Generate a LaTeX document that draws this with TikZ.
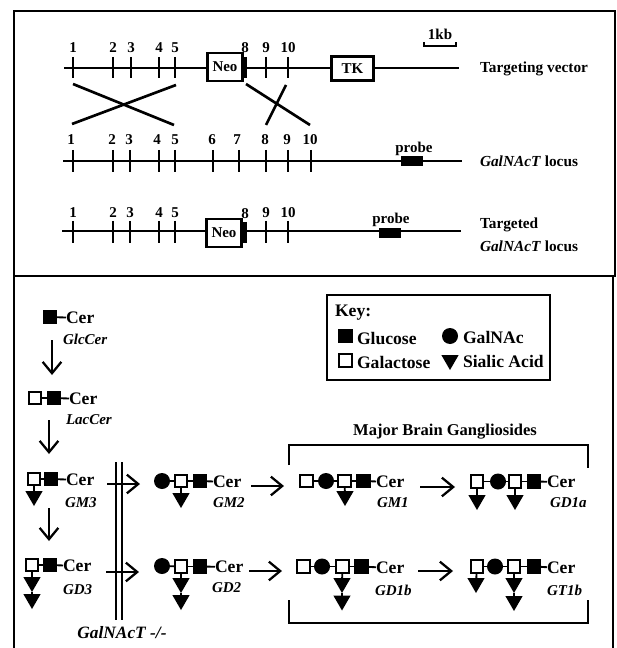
\documentclass[tikz,border=0pt]{standalone}
\usepackage{fontspec}
\setmainfont{Liberation Serif}
\usetikzlibrary{arrows.meta,shapes.geometric}
\tikzset{
  x=0.75pt,y=-0.75pt,
  every node/.style={inner sep=0pt,outer sep=0pt,font=\bfseries\fontsize{11.25}{12}\selectfont},
  frameline/.style={line width=1.4pt},
  gene/.style={line width=1.7pt},
  tick/.style={line width=1.6pt},
  cross/.style={line width=2pt},
  genebox/.style={draw,line width=2.2pt,fill=white,font=\bfseries\fontsize{11.25}{12}\selectfont},
  probebox/.style={fill=black,minimum width=16.5pt,minimum height=7.5pt},
  wsq/.style={draw,fill=white,line width=1.5pt,minimum size=9.2pt},
  bsq/.style={draw,fill=black,line width=0.6pt,minimum size=10.2pt},
  circ/.style={circle,fill=black,minimum size=12pt},
  tri/.style={regular polygon,regular polygon sides=3,shape border rotate=180,fill=black,minimum size=15pt},
  lnk/.style={line width=1.4pt},
  step arrow/.style={line width=1.6pt,-{Straight Barb[length=8.5pt,width=14pt,line width=1.7pt]}},
  cer/.style={anchor=west,font=\bfseries\fontsize{13.2}{14}\selectfont},
  glabel/.style={anchor=west,font=\bfseries\itshape\fontsize{11.25}{12}\selectfont},
  keytxt/.style={anchor=west,font=\bfseries\fontsize{13.2}{14}\selectfont},
  side/.style={anchor=west,font=\bfseries\fontsize{11.5}{12}\selectfont},
  brack/.style={line width=1.5pt},
}
\begin{document}
\begin{tikzpicture}
\useasboundingbox (0,0) rectangle (616,648);
\fill[white] (0,0) rectangle (616,648);
% frames
\draw[frameline] (14,11) rectangle (615,276);
\draw[frameline] (14,276) -- (14,648);
\draw[frameline] (613,276) -- (613,648);
% targeting vector
\coordinate (v0) at (64,68); \coordinate (v1) at (459,68);
\draw[gene] (v0) -- (v1);
\foreach \x/\t in {73/1,113/2,131/3,159/4,175/5,266/9,288/10}{
  \draw[tick] (\x,57) -- (\x,78);
  \node (va\t) at (\x,48) {\t};
}
\node[genebox,minimum width=26pt,minimum height=21pt] (neoa) at (225,67) {Neo};
\draw[line width=2.6pt] (245,57) -- (245,78);
\node (va8) at (245,48) {8};
\node[genebox,minimum width=31pt,minimum height=18pt] (tk) at (352.5,68.5) {TK};
\node (kb) at (440,34) {1kb};
\draw[line width=1.5pt] (424,42) -- (424,46) -- (456,46) -- (456,42);
\node[side] (sa) at (480,68.5) {Targeting vector};
% crossovers
\draw[cross] (73,84) -- (174,125);
\draw[cross] (72,124) -- (176,85);
\draw[cross] (246,84) -- (310,125);
\draw[cross] (286,85) -- (266,125);
% locus
\coordinate (l0) at (63,161); \coordinate (l1) at (462,161);
\draw[gene] (l0) -- (l1);
\foreach \x/\t/\lx in {73/1/71,113/2/112,130/3/129,159/4/157,175/5/175,213/6/212,239/7/237,266/8/265,288/9/287,311/10/310}{
  \draw[tick] (\x,150) -- (\x,172);
  \node (lb\t) at (\lx,140) {\t};
}
\node[probebox] (pa) at (412,161) {};
\node (pla) at (414,148.5) {probe};
\node[side] (sb) at (480,161) {\textit{GalNAcT} locus};
% targeted locus
\coordinate (t0) at (62,231); \coordinate (t1) at (461,231);
\draw[gene] (t0) -- (t1);
\foreach \x/\t in {73/1,113/2,130/3,159/4,175/5,266/9,288/10}{
  \draw[tick] (\x,221) -- (\x,243);
  \node (tc\t) at (\x,213) {\t};
}
\node[genebox,minimum width=26pt,minimum height=21pt] (neob) at (224,233) {Neo};
\draw[line width=2.6pt] (245,222) -- (245,243);
\node (tc8) at (245,214) {8};
\node[probebox] (pb) at (390,233) {};
\node (plb) at (391,219.5) {probe};
\node[side] (sc) at (480,225) {Targeted};
\node[side] (sd) at (480,246) {\textit{GalNAcT} locus};

% GlcCer
\node[bsq] (g1) at (50,317) {};
\node[cer] (g1c) at (66,318) {Cer};
\draw[lnk] (g1) -- (g1c);
\node[glabel] at (63,339) {GlcCer};
\coordinate (ar1a) at (52,340); \coordinate (ar1b) at (52,375);
\draw[step arrow] (ar1a) -- (ar1b);
% LacCer
\node[wsq] (l2) at (35,398) {};
\node[bsq] (l1b) at (54,398) {};
\node[cer] (l1c) at (69,399) {Cer};
\draw[lnk] (l2) -- (l1b); \draw[lnk] (l1b) -- (l1c);
\node[glabel] at (66,420) {LacCer};
\coordinate (ar2a) at (49,420); \coordinate (ar2b) at (49,454);
\draw[step arrow] (ar2a) -- (ar2b);
% GM3
\node[wsq] (m1) at (34,479) {};
\node[bsq] (m2) at (51,479) {};
\node[cer] (m3) at (66,480) {Cer};
\node[tri] (m4) at (34,496) {};
\draw[lnk] (m1) -- (m2); \draw[lnk] (m2) -- (m3); \draw[lnk] (m1) -- (m4);
\node[glabel] at (65,503) {GM3};
\coordinate (ar3a) at (49,508); \coordinate (ar3b) at (49,541);
\draw[step arrow] (ar3a) -- (ar3b);
% GD3
\node[wsq] (d1) at (32,565) {};
\node[bsq] (d2) at (50,565) {};
\node[cer] (d3) at (63,566) {Cer};
\node[tri] (d4) at (32,582) {};
\node[tri] (d5) at (32,599) {};
\draw[lnk] (d1) -- (d2); \draw[lnk] (d2) -- (d3); \draw[lnk] (d1) -- (d4); \draw[lnk] (d4) -- (d5);
\node[glabel] at (63,590) {GD3};
% knockout
\draw[line width=1.3pt] (116,462) -- (116,620);
\draw[line width=1.3pt] (122,462) -- (122,620);
\coordinate (k1a) at (107,484); \coordinate (k1b) at (140,484);
\coordinate (k2a) at (106,572); \coordinate (k2b) at (139,572);
\draw[step arrow] (k1a) -- (k1b);
\draw[step arrow] (k2a) -- (k2b);
\node[font=\bfseries\itshape\fontsize{13}{14}\selectfont] at (122,633) {GalNAcT -/-};
% GM2
\node[circ] (a1) at (162,481) {};
\node[wsq] (a2) at (181,481) {};
\node[bsq] (a3) at (200,481) {};
\node[cer] (a4) at (213,482) {Cer};
\node[tri] (a5) at (181,498) {};
\draw[lnk] (a1) -- (a2); \draw[lnk] (a2) -- (a3); \draw[lnk] (a3) -- (a4); \draw[lnk] (a2) -- (a5);
\node[glabel] at (213,503) {GM2};
\coordinate (a6) at (251,486); \coordinate (a7) at (284,486);
\draw[step arrow] (a6) -- (a7);
% GD2
\node[circ] (b1) at (162,566) {};
\node[wsq] (b2) at (181,566.5) {};
\node[bsq] (b3) at (200,566.5) {};
\node[cer] (b4) at (215,567) {Cer};
\node[tri] (b5) at (181,583) {};
\node[tri] (b6) at (181,600) {};
\draw[lnk] (b1) -- (b2); \draw[lnk] (b2) -- (b3); \draw[lnk] (b3) -- (b4); \draw[lnk] (b2) -- (b5); \draw[lnk] (b5) -- (b6);
\node[glabel] at (212,588) {GD2};
\coordinate (b7) at (249,571); \coordinate (b8) at (282,571);
\draw[step arrow] (b7) -- (b8);
% brackets
\coordinate (bt1) at (289,465); \coordinate (bt2) at (588,468);
\draw[brack] (bt1) -- (289,445) -- (588,445) -- (bt2);
\coordinate (bb1) at (289,600); \coordinate (bb2) at (588,600);
\draw[brack] (bb1) -- (289,623) -- (588,623) -- (bb2);
\node[font=\bfseries\fontsize{12.4}{14}\selectfont] at (445,431.5) {Major Brain Gangliosides};
% GM1
\node[wsq] (c1) at (306.5,481) {};
\node[circ] (c2) at (326,481) {};
\node[wsq] (c3) at (344.5,481) {};
\node[bsq] (c4) at (363.5,481) {};
\node[cer] (c5) at (376,482) {Cer};
\node[tri] (c6) at (345,496) {};
\draw[lnk] (c1) -- (c2); \draw[lnk] (c2) -- (c3); \draw[lnk] (c3) -- (c4); \draw[lnk] (c4) -- (c5); \draw[lnk] (c3) -- (c6);
\node[glabel] at (377,503) {GM1};
\coordinate (c7) at (420,487); \coordinate (c8) at (455,487);
\draw[step arrow] (c7) -- (c8);
% GD1a
\node[wsq] (e1) at (477,481.5) {};
\node[circ] (e2) at (498,481.5) {};
\node[wsq] (e3) at (515,481.5) {};
\node[bsq] (e4) at (534,481.5) {};
\node[cer] (e5) at (547,482) {Cer};
\node[tri] (e6) at (477,500) {};
\node[tri] (e7) at (515,500) {};
\draw[lnk] (e1) -- (e2); \draw[lnk] (e2) -- (e3); \draw[lnk] (e3) -- (e4); \draw[lnk] (e4) -- (e5); \draw[lnk] (e1) -- (e6); \draw[lnk] (e3) -- (e7);
\node[glabel] at (550,503) {GD1a};
% GD1b
\node[wsq] (f1) at (303.5,566.5) {};
\node[circ] (f2) at (322,566.5) {};
\node[wsq] (f3) at (342.5,566.5) {};
\node[bsq] (f4) at (361.5,566.5) {};
\node[cer] (f5) at (376,568) {Cer};
\node[tri] (f6) at (342,583) {};
\node[tri] (f7) at (342,600.5) {};
\draw[lnk] (f1) -- (f2); \draw[lnk] (f2) -- (f3); \draw[lnk] (f3) -- (f4); \draw[lnk] (f4) -- (f5); \draw[lnk] (f3) -- (f6); \draw[lnk] (f6) -- (f7);
\node[glabel] at (375,590) {GD1b};
\coordinate (f8) at (418,571); \coordinate (f9) at (453,571);
\draw[step arrow] (f8) -- (f9);
% GT1b
\node[wsq] (h1) at (477,566.5) {};
\node[circ] (h2) at (495,566.5) {};
\node[wsq] (h3) at (514,566.5) {};
\node[bsq] (h4) at (534,566.5) {};
\node[cer] (h5) at (547,568) {Cer};
\node[tri] (h6) at (476,583) {};
\node[tri] (h7) at (514,583) {};
\node[tri] (h8) at (514,601) {};
\draw[lnk] (h1) -- (h2); \draw[lnk] (h2) -- (h3); \draw[lnk] (h3) -- (h4); \draw[lnk] (h4) -- (h5); \draw[lnk] (h1) -- (h6); \draw[lnk] (h3) -- (h7); \draw[lnk] (h7) -- (h8);
\node[glabel] at (547,590) {GT1b};
% key
\draw[line width=1.5pt] (327,295) rectangle (550,380);
\node[keytxt] at (335,313) {Key:};
\node[bsq] (k1) at (345.5,336) {};
\node[keytxt] at (357,338) {Glucose};
\node[wsq] (k2) at (345.5,360.5) {};
\node[keytxt] at (357,362) {Galactose};
\node[circ] (k3) at (450,336) {};
\node[keytxt] at (463,337) {GalNAc};
\node[tri] (k4) at (450,360) {};
\node[keytxt] at (463,361) {Sialic Acid};
\end{tikzpicture}
\end{document}
